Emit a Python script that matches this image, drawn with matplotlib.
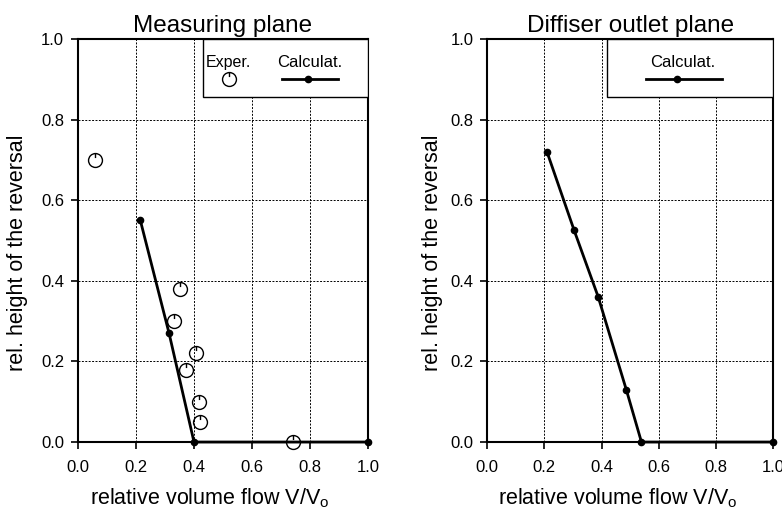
import numpy as np
import matplotlib.pyplot as plt
from matplotlib.path import Path
from matplotlib.patches import Rectangle
from matplotlib.lines import Line2D

plt.rcParams['font.family'] = ['Liberation Sans', 'DejaVu Sans']

# Measuring plane
exp_x = [0.06, 0.353, 0.331, 0.406, 0.371, 0.417, 0.42, 0.741]
exp_y = [0.70, 0.38, 0.30, 0.22, 0.18, 0.10, 0.05, 0.0]
calc1_x = [0.215, 0.314, 0.40, 1.0]
calc1_y = [0.55, 0.27, 0.0, 0.0]

# Diffiser outlet plane
calc2_x = [0.209, 0.304, 0.388, 0.486, 0.539, 1.0]
calc2_y = [0.72, 0.525, 0.36, 0.13, 0.0, 0.0]

ticks = [0.0, 0.2, 0.4, 0.6, 0.8, 1.0]
tick_labels = ['0.0', '0.2', '0.4', '0.6', '0.8', '1.0']

# open circle with a small stroke at the top
circ = Path.unit_circle()
stroke = Path([[0, 1.0], [0, 0.35]], [Path.MOVETO, Path.LINETO])
exp_marker = Path.make_compound_path(circ, stroke)

fig = plt.figure(figsize=(7.82, 5.14), dpi=100)
ax1 = fig.add_axes([0.0997, 0.140, 0.371, 0.784])
ax2 = fig.add_axes([0.623, 0.140, 0.366, 0.784])


def style(ax, title, ylab_x):
    ax.set_xlim(0, 1)
    ax.set_ylim(0, 1)
    ax.set_xticks(ticks)
    ax.set_yticks(ticks)
    ax.set_xticklabels(tick_labels)
    ax.set_yticklabels(tick_labels)
    ax.tick_params(direction='out', length=5, width=1.2, labelsize=12, pad=5)
    ax.tick_params(axis='x', pad=8)
    ax.grid(True, color='black', linestyle=(0, (2, 1.5)), linewidth=0.7)
    for s in ax.spines.values():
        s.set_linewidth(1.5)
    ax.set_title(title, fontsize=17.5, pad=5)
    ax.set_xlabel('relative volume flow V/V$_\\mathregular{o}$', fontsize=15.5)
    ax.set_ylabel('rel. height of the reversal', fontsize=15.5)
    ax.xaxis.set_label_coords(0.455, -0.11)
    ax.yaxis.set_label_coords(ylab_x, 0.469)


style(ax1, 'Measuring plane', -0.172)
style(ax2, 'Diffiser outlet plane', -0.154)

ax1.plot(calc1_x, calc1_y, color='black', linewidth=2.0, marker='o',
         markersize=4.5, clip_on=False, zorder=3)
ax1.plot(exp_x, exp_y, linestyle='none', marker=exp_marker, markersize=10,
         markerfacecolor='none', markeredgecolor='black', markeredgewidth=1.0,
         clip_on=False, zorder=4)
ax2.plot(calc2_x, calc2_y, color='black', linewidth=2.0, marker='o',
         markersize=4.5, clip_on=False, zorder=3)

# legend boxes drawn like the original (header above sample)
r1 = Rectangle((0.431, 0.856), 0.569, 0.144, transform=ax1.transAxes,
               facecolor='white', edgecolor='black', linewidth=1.0, zorder=5)
ax1.add_patch(r1)
ax1.text(0.52, 0.943, 'Exper.', transform=ax1.transAxes, ha='center',
         va='center', fontsize=11.5, zorder=6)
ax1.text(0.797, 0.943, 'Calculat.', transform=ax1.transAxes, ha='center',
         va='center', fontsize=12, zorder=6)
ax1.add_line(Line2D([0.52], [0.9], transform=ax1.transAxes, marker=exp_marker,
                    markersize=10, markerfacecolor='none', markeredgecolor='black',
                    linestyle='none', zorder=6))
ax1.add_line(Line2D([0.703, 0.897], [0.9, 0.9], transform=ax1.transAxes,
                    color='black', linewidth=2.0, zorder=6))
ax1.add_line(Line2D([0.793], [0.9], transform=ax1.transAxes, marker='o',
                    markersize=4.5, color='black', zorder=7))

r2 = Rectangle((0.42, 0.856), 0.58, 0.144, transform=ax2.transAxes,
               facecolor='white', edgecolor='black', linewidth=1.0, zorder=5)
ax2.add_patch(r2)
ax2.text(0.682, 0.943, 'Calculat.', transform=ax2.transAxes, ha='center',
         va='center', fontsize=12, zorder=6)
ax2.add_line(Line2D([0.556, 0.822], [0.9, 0.9], transform=ax2.transAxes,
                    color='black', linewidth=2.0, zorder=6))
ax2.add_line(Line2D([0.664], [0.9], transform=ax2.transAxes, marker='o',
                    markersize=4.5, color='black', zorder=7))

fig.savefig('out.png', dpi=100)
